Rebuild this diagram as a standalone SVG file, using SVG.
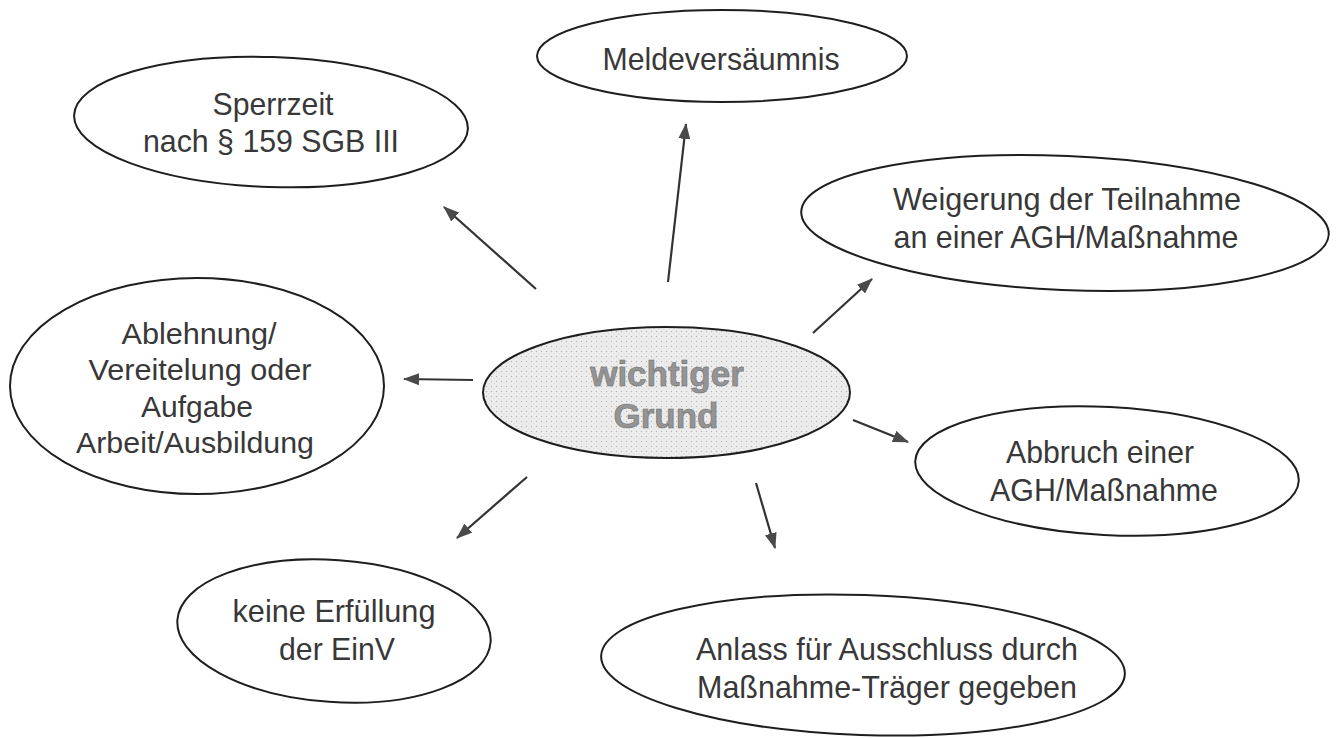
<svg xmlns="http://www.w3.org/2000/svg" width="1340" height="738" viewBox="0 0 1340 738">
<defs>
<style>
.node ellipse{fill:#fff;stroke:#1e1e1e;stroke-width:2}
.lbl{font-family:"Liberation Sans",Arial,sans-serif;font-size:32px;fill:#383838;text-anchor:middle}
.sm{font-size:30px}
.center-lbl{font-family:"Liberation Sans",Arial,sans-serif;font-size:35px;font-weight:bold;fill:#949494;stroke:#707070;stroke-width:0.6;text-anchor:middle}
.conn line{stroke:#333;stroke-width:2.2;marker-end:url(#arr)}
</style>
<pattern id="dots" width="5" height="5" patternUnits="userSpaceOnUse">
<rect width="5" height="5" fill="#ededed"/>
<circle cx="1.5" cy="1.5" r="0.7" fill="#b5b5b5"/>
<circle cx="4" cy="3.8" r="0.5" fill="#c8c8c8"/>
</pattern>
<marker id="arr" viewBox="0 0 16 12" refX="15" refY="6" markerWidth="16" markerHeight="12" markerUnits="userSpaceOnUse" orient="auto">
<path d="M0,0 L16,6 L0,12 Z" fill="#4a4a4a"/>
</marker>
</defs>
<rect width="1340" height="738" fill="#fff"/>

<g id="connectors" class="conn">
<line x1="536" y1="289" x2="444" y2="207"/>
<line x1="668" y1="282" x2="686" y2="124"/>
<line x1="813" y1="333" x2="872" y2="279"/>
<line x1="473" y1="380" x2="404" y2="379"/>
<line x1="853" y1="420" x2="908" y2="442"/>
<line x1="527" y1="477" x2="457" y2="538"/>
<line x1="756" y1="483" x2="775" y2="548"/>
</g>

<g id="wichtiger-grund" class="node">
<ellipse cx="666.5" cy="392.5" rx="183.5" ry="65.5" style="fill:url(#dots)"/>
<text class="center-lbl" x="667" y="386">wichtiger</text>
<text class="center-lbl" x="666" y="428">Grund</text>
</g>

<g id="sperrzeit" class="node">
<ellipse cx="271" cy="122" rx="197" ry="65" transform="rotate(2 271 122)"/>
<text class="lbl" x="273" y="115" textLength="121" lengthAdjust="spacingAndGlyphs">Sperrzeit</text>
<text class="lbl" x="271" y="152" textLength="256" lengthAdjust="spacingAndGlyphs">nach § 159 SGB III</text>
</g>

<g id="meldeversaeumnis" class="node">
<ellipse cx="722" cy="56" rx="185" ry="46"/>
<text class="lbl" x="721" y="70" textLength="237" lengthAdjust="spacingAndGlyphs">Meldeversäumnis</text>
</g>

<g id="weigerung" class="node">
<ellipse cx="1065" cy="223" rx="264" ry="67" transform="rotate(2.5 1065 223)"/>
<text class="lbl" x="1067" y="210" textLength="348" lengthAdjust="spacingAndGlyphs">Weigerung der Teilnahme</text>
<text class="lbl" x="1066" y="248" textLength="345" lengthAdjust="spacingAndGlyphs">an einer AGH/Maßnahme</text>
</g>

<g id="ablehnung" class="node">
<ellipse cx="197" cy="386" rx="187" ry="108"/>
<text class="lbl sm" x="199" y="344" textLength="155" lengthAdjust="spacingAndGlyphs">Ablehnung/</text>
<text class="lbl sm" x="200" y="380" textLength="223" lengthAdjust="spacingAndGlyphs">Vereitelung oder</text>
<text class="lbl sm" x="197" y="417" textLength="112" lengthAdjust="spacingAndGlyphs">Aufgabe</text>
<text class="lbl sm" x="195" y="453" textLength="238" lengthAdjust="spacingAndGlyphs">Arbeit/Ausbildung</text>
</g>

<g id="abbruch" class="node">
<ellipse cx="1107" cy="471" rx="192" ry="64" transform="rotate(3 1107 471)"/>
<text class="lbl" x="1100" y="463" textLength="188" lengthAdjust="spacingAndGlyphs">Abbruch einer</text>
<text class="lbl" x="1104" y="501" textLength="228" lengthAdjust="spacingAndGlyphs">AGH/Maßnahme</text>
</g>

<g id="keine-erfuellung" class="node">
<ellipse cx="334" cy="631" rx="157" ry="71" transform="rotate(4 334 631)"/>
<text class="lbl" x="334" y="622" textLength="203" lengthAdjust="spacingAndGlyphs">keine Erfüllung</text>
<text class="lbl" x="337" y="660" textLength="116" lengthAdjust="spacingAndGlyphs">der EinV</text>
</g>

<g id="anlass" class="node">
<ellipse cx="863" cy="665" rx="262" ry="70" transform="rotate(2 863 665)"/>
<text class="lbl" x="887" y="660" textLength="382" lengthAdjust="spacingAndGlyphs">Anlass für Ausschluss durch</text>
<text class="lbl" x="887" y="698" textLength="380" lengthAdjust="spacingAndGlyphs">Maßnahme-Träger gegeben</text>
</g>
</svg>
